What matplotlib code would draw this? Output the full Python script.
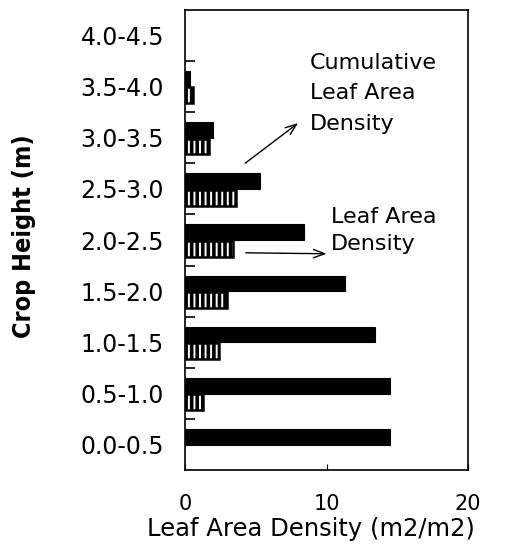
import matplotlib
matplotlib.use("Agg")
import matplotlib.pyplot as plt
import numpy as np

categories = ["0.0-0.5", "0.5-1.0", "1.0-1.5", "1.5-2.0", "2.0-2.5",
              "2.5-3.0", "3.0-3.5", "3.5-4.0", "4.0-4.5"]
cumulative_lad = [14.5, 14.5, 13.4, 11.3, 8.4, 5.3, 2.0, 0.35, 0.0]
leaf_area_density = [0.0, 1.3, 2.4, 3.0, 3.4, 3.6, 1.7, 0.55, 0.0]
x_ticks = [0, 10, 20]

plt.rcParams['hatch.linewidth'] = 2.6
plt.rcParams['font.family'] = ['DejaVu Sans']

fig = plt.figure(figsize=(5.11, 5.44), dpi=100)
ax = fig.add_axes([185/511, 1-470/544, (468-185)/511, 460/544])

y = np.arange(len(categories))
cum = np.array(cumulative_lad)
lad = np.array(leaf_area_density)
mc = cum > 0
ml = lad > 0
h = 0.31
# cumulative (solid black) above center, LAD (hatched) below
ax.barh(y[mc] + 0.15, cum[mc], height=h, color='black', edgecolor='black', linewidth=0.8)
ax.barh(y[ml] - 0.17, lad[ml], height=h, color='white', edgecolor='black',
        linewidth=1.8, hatch='|||')

ax.set_xlim(0, 20)
ax.set_ylim(-0.5, len(categories) - 0.5)
ax.set_xticks(x_ticks)
ax.set_xticklabels([str(t) for t in x_ticks], fontsize=15)
ax.set_yticks(y)
ax.set_yticklabels(categories, fontsize=17)
ax.set_yticks(y[:-1] + 0.5, minor=True)
ax.tick_params(axis='y', which='major', length=0, pad=15)
ax.tick_params(axis='y', which='minor', length=7, direction='in', width=1.2)
ax.tick_params(axis='x', which='major', length=4, direction='in', pad=17)
for s in ax.spines.values():
    s.set_linewidth(1.2)

fig.text(24/511, 1-236/544, "Crop Height (m)", rotation=90, ha='center', va='center',
         fontsize=18, fontweight='heavy', fontstretch='condensed')
fig.text(311/511, 1-529/544, "Leaf Area Density (m2/m2)", ha='center', va='center', fontsize=17.5)

ax.text(8.8, 7.66, "Cumulative\nLeaf Area\nDensity", ha='left', va='top', fontsize=16,
        linespacing=1.65)
ax.annotate("", xy=(8.15, 6.32), xytext=(4.1, 5.47),
            arrowprops=dict(arrowstyle='->,head_length=0.8,head_width=0.3', color='black', lw=1))
ax.text(10.3, 4.64, "Leaf Area\nDensity", ha='left', va='top', fontsize=16, linespacing=1.45)
ax.annotate("", xy=(10.2, 3.73), xytext=(4.1, 3.75),
            arrowprops=dict(arrowstyle='->,head_length=0.8,head_width=0.3', color='black', lw=1))

fig.savefig("out.png", dpi=100)
